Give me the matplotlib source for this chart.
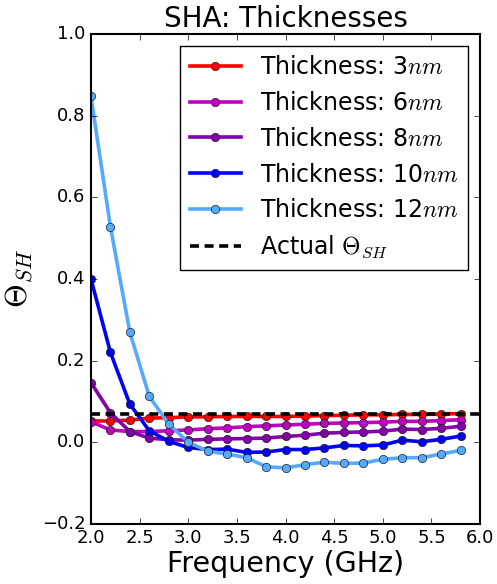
import matplotlib
matplotlib.use("Agg")
import matplotlib.pyplot as plt
import numpy as np

plt.style.use("classic")
plt.rcParams["font.family"] = ["DejaVu Sans"]
plt.rcParams["mathtext.fontset"] = "cm"

freq = [2.0, 2.2, 2.4, 2.6, 2.8, 3.0, 3.2, 3.4, 3.6, 3.8,
        4.0, 4.2, 4.4, 4.6, 4.8, 5.0, 5.2, 5.4, 5.6, 5.8]

t3 = [0.052, 0.052, 0.054, 0.059, 0.060, 0.062, 0.062, 0.063, 0.063, 0.063,
      0.063, 0.064, 0.065, 0.066, 0.067, 0.067, 0.068, 0.068, 0.069, 0.070]
t6 = [0.050, 0.030, 0.026, 0.026, 0.028, 0.030, 0.033, 0.035, 0.038, 0.040,
      0.042, 0.044, 0.046, 0.047, 0.048, 0.049, 0.051, 0.051, 0.053, 0.055]
t8 = [0.146, 0.072, 0.026, 0.010, 0.006, 0.005, 0.007, 0.008, 0.009, 0.010,
      0.014, 0.017, 0.022, 0.024, 0.025, 0.027, 0.032, 0.031, 0.034, 0.039]
t10 = [0.400, 0.220, 0.093, 0.028, 0.002, -0.013, -0.018, -0.017, -0.025, -0.024,
       -0.018, -0.018, -0.014, -0.008, -0.009, -0.007, 0.005, 0.001, 0.007, 0.015]
t12 = [0.847, 0.528, 0.269, 0.112, 0.044, 0.000, -0.022, -0.029, -0.038, -0.060,
       -0.063, -0.055, -0.049, -0.052, -0.051, -0.042, -0.038, -0.038, -0.029, -0.020]
actual = 0.07

series = [
    (t3, "3", "#ff0000"),
    (t6, "6", "#c000c0"),
    (t8, "8", "#8400aa"),
    (t10, "10", "#0000ff"),
    (t12, "12", "#55aaff"),
]

fig = plt.figure(figsize=(4.97, 5.84), dpi=100, facecolor="white")
ax = fig.add_axes([0.183, 0.103, 0.783, 0.839])

for vals, thk, col in series:
    ax.plot(freq, vals, "-o", color=col, lw=2.6, markersize=6,
            markeredgecolor="#202020", markeredgewidth=0.5,
            label="Thickness: " + thk + r"$nm$")

ax.axhline(actual, color="black", ls="--", lw=2.6, dashes=(6.5, 4.0),
           label=r"Actual $\Theta_{SH}$")

ax.set_xlim(2.0, 6.0)
ax.set_ylim(-0.2, 1.0)
ax.set_xticks(np.arange(2.0, 6.01, 0.5))
ax.set_yticks(np.arange(-0.2, 1.01, 0.2))
ax.tick_params(labelsize=13)
ax.set_title("SHA: Thicknesses", fontsize=20)
ax.set_xlabel("Frequency (GHz)", fontsize=20.5, labelpad=2)
ax.set_ylabel(r"$\Theta_{SH}$", fontsize=22)
for sp in ax.spines.values():
    sp.set_linewidth(1.5)

ax.legend(loc="upper right", fontsize=17, numpoints=1, handlelength=2.2,
          labelspacing=0.5, fancybox=False, framealpha=1.0)

fig.savefig("out.png", dpi=100, facecolor="white")
